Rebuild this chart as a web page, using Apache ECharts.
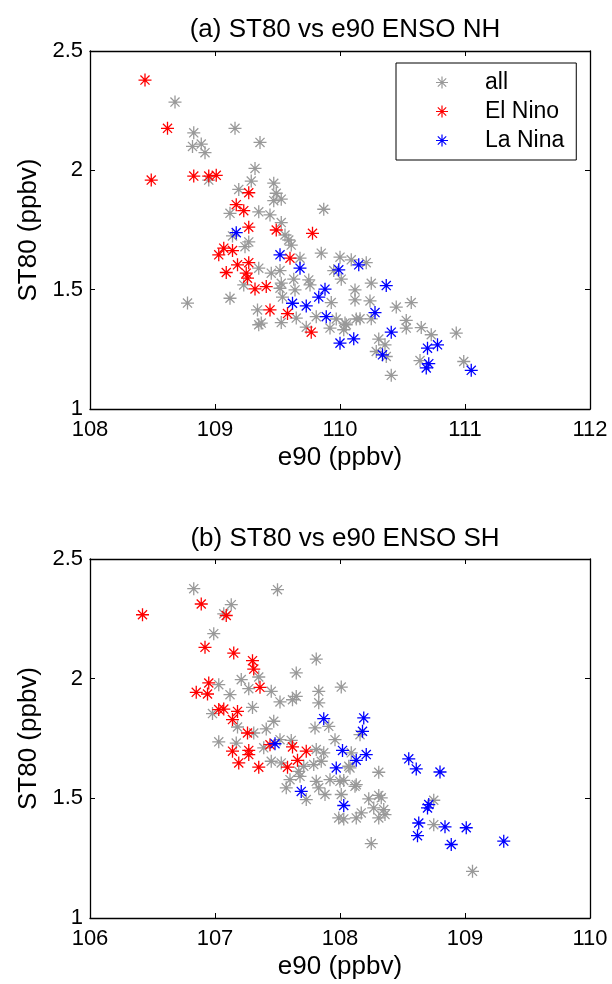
<!DOCTYPE html>
<html>
<head>
<meta charset="utf-8">
<script src="https://cdn.jsdelivr.net/npm/echarts@6/dist/echarts.min.js"></script>
<style>
html,body{margin:0;padding:0;background:#fff;}
#chart{width:612px;height:984px;}
</style>
</head>
<body>
<div id="chart"></div>
<script>
// ---- data: [e90 (ppbv), ST80 (ppbv)] ----
const nhAll = [[108.68,2.286],[108.83,2.157],[109.16,2.176],[109.36,2.117],[108.82,2.10],[108.89,2.11],[108.92,2.074],[108.95,1.959],[109.32,2.008],[109.29,1.955],[109.47,1.946],[109.19,1.92],[109.49,1.904],[109.47,1.873],[109.53,1.879],[109.87,1.837],[109.12,1.82],[109.35,1.826],[109.44,1.813],[109.53,1.781],[109.56,1.729],[109.14,1.725],[109.59,1.708],[109.61,1.687],[109.27,1.70],[109.24,1.68],[109.68,1.632],[109.85,1.653],[110.0,1.636],[110.09,1.625],[110.21,1.613],[109.95,1.58],[110.01,1.544],[109.35,1.59],[109.45,1.569],[109.52,1.58],[109.63,1.544],[109.75,1.541],[109.76,1.52],[109.53,1.527],[109.23,1.52],[109.52,1.506],[109.64,1.499],[109.54,1.469],[109.12,1.464],[108.78,1.444],[109.93,1.446],[109.34,1.415],[109.65,1.381],[109.53,1.362],[109.35,1.353],[109.37,1.36],[109.97,1.377],[109.81,1.387],[109.73,1.343],[109.92,1.339],[110.05,1.353],[110.13,1.377],[110.12,1.499],[110.12,1.457],[110.25,1.527],[110.24,1.453],[110.45,1.427],[110.57,1.446],[110.16,1.378],[110.25,1.378],[110.04,1.36],[110.03,1.332],[110.53,1.371],[110.53,1.339],[110.65,1.341],[110.73,1.311],[110.93,1.318],[110.31,1.293],[110.36,1.269],[110.29,1.241],[110.37,1.22],[110.64,1.203],[110.99,1.199],[110.41,1.141]];
const nhElNino = [[108.44,2.378],[108.62,2.176],[108.49,1.959],[108.83,1.976],[108.95,1.976],[109.01,1.979],[109.27,1.906],[109.17,1.856],[109.23,1.831],[109.27,1.762],[109.49,1.75],[109.78,1.736],[109.07,1.674],[109.14,1.664],[109.03,1.646],[109.6,1.632],[109.18,1.604],[109.27,1.613],[109.09,1.572],[109.25,1.569],[109.26,1.548],[109.32,1.503],[109.41,1.513],[109.44,1.415],[109.58,1.40],[109.77,1.322]];
const nhLaNina = [[109.17,1.739],[109.52,1.646],[110.15,1.604],[109.99,1.583],[109.68,1.59],[109.88,1.502],[109.83,1.469],[109.62,1.443],[109.73,1.432],[109.89,1.387],[110.0,1.276],[110.11,1.294],[110.37,1.517],[110.28,1.404],[110.41,1.322],[110.34,1.227],[110.70,1.255],[110.78,1.269],[110.71,1.19],[110.69,1.172],[111.05,1.162]];

const shAll = [[106.83,2.376],[107.50,2.372],[107.13,2.309],[107.07,2.271],[106.99,2.188],[107.81,2.082],[107.65,2.024],[107.35,2.007],[107.21,1.996],[107.27,1.958],[107.03,1.975],[107.12,1.933],[107.45,1.947],[107.52,1.903],[107.62,1.912],[107.65,1.926],[107.83,1.947],[107.83,1.899],[108.01,1.965],[107.30,1.88],[106.98,1.854],[107.47,1.822],[107.41,1.79],[107.18,1.798],[107.80,1.794],[107.91,1.801],[108.16,1.766],[107.31,1.773],[107.03,1.736],[107.17,1.731],[107.39,1.711],[107.52,1.745],[107.61,1.742],[107.45,1.655],[107.53,1.648],[107.81,1.704],[107.87,1.69],[107.85,1.655],[107.79,1.641],[107.71,1.634],[107.67,1.613],[107.68,1.592],[107.60,1.578],[107.57,1.544],[107.73,1.495],[107.81,1.571],[107.83,1.544],[107.88,1.516],[107.92,1.578],[108.0,1.571],[107.96,1.745],[108.07,1.634],[108.12,1.55],[108.01,1.516],[107.99,1.418],[108.03,1.414],[108.13,1.418],[108.09,1.69],[108.08,1.627],[108.31,1.609],[108.03,1.575],[108.13,1.557],[108.23,1.498],[108.31,1.512],[108.33,1.502],[108.17,1.439],[108.27,1.46],[108.35,1.453],[108.36,1.432],[108.31,1.418],[108.25,1.311],[108.75,1.492],[108.75,1.39],[109.06,1.195]];
const shElNino = [[106.42,2.267],[106.89,2.312],[107.09,2.264],[106.92,2.131],[107.15,2.107],[107.30,2.075],[107.31,2.04],[107.36,1.964],[106.95,1.982],[106.85,1.943],[106.94,1.936],[107.03,1.871],[107.07,1.873],[107.18,1.863],[107.14,1.829],[107.26,1.773],[107.14,1.697],[107.27,1.70],[107.27,1.683],[107.19,1.648],[107.44,1.724],[107.62,1.715],[107.73,1.697],[107.35,1.63],[107.58,1.63],[107.66,1.659]];
const shLaNina = [[107.87,1.833],[108.19,1.836],[108.18,1.78],[107.48,1.728],[107.69,1.529],[108.02,1.70],[107.97,1.627],[108.13,1.659],[108.03,1.47],[108.21,1.683],[108.55,1.665],[108.61,1.623],[108.80,1.61],[108.71,1.474],[108.70,1.46],[108.63,1.397],[108.84,1.381],[109.01,1.377],[108.62,1.344],[108.89,1.307],[109.31,1.321]];

const titles = ['(a) ST80 vs e90 ENSO NH', '(b) ST80 vs e90 ENSO SH'];
const seriesNames = ['all', 'El Nino', 'La Nina'];
const xRanges = [[108, 112], [106, 110]];
const yRange = [1, 2.5];

// ---- styling ----
const FONT = '"Liberation Sans", Arial, Helvetica, sans-serif';
const COLORS = ['#999999', '#ff0000', '#0000ff'];
const STAR = 'path://M45 0L55 0L55 100L45 100Z M0 45L100 45L100 55L0 55Z M11.5 18.5L18.5 11.5L88.5 81.5L81.5 88.5Z M81.5 11.5L88.5 18.5L18.5 88.5L11.5 81.5Z';
const grids = [
  {left: 90, top: 51, width: 500, height: 358},
  {left: 90, top: 559, width: 500, height: 359}
];
const titleTops = [12, 521];

const chart = echarts.init(document.getElementById('chart'), null, {renderer: 'canvas'});

const axisLine = {show: true, lineStyle: {color: '#000', width: 1.3}};
const tick = {show: true, inside: true, length: 5, lineStyle: {color: '#000', width: 1}};

const xAxis = [], yAxis = [], series = [], title = [];
grids.forEach((g, i) => {
  title.push({
    text: titles[i], left: g.left + g.width / 2, top: titleTops[i], textAlign: 'center',
    textStyle: {fontFamily: FONT, fontSize: 26, fontWeight: 'normal', color: '#000'}
  });
  xAxis.push({
    gridIndex: i, type: 'value', position: 'bottom', min: xRanges[i][0], max: xRanges[i][1], interval: 1,
    name: 'e90 (ppbv)', nameLocation: 'middle', nameGap: 36,
    nameTextStyle: {fontFamily: FONT, fontSize: 26, color: '#000'},
    axisLine, axisTick: tick, splitLine: {show: false},
    axisLabel: {fontFamily: FONT, fontSize: 22, color: '#000', margin: 10}
  });
  xAxis.push({
    gridIndex: i, type: 'value', position: 'top', min: xRanges[i][0], max: xRanges[i][1], interval: 1,
    axisLine, axisTick: tick, splitLine: {show: false}, axisLabel: {show: false}
  });
  yAxis.push({
    gridIndex: i, type: 'value', position: 'left', min: yRange[0], max: yRange[1], interval: 0.5,
    name: 'ST80 (ppbv)', nameLocation: 'middle', nameGap: 48, nameRotate: 90,
    nameTextStyle: {fontFamily: FONT, fontSize: 26, color: '#000'},
    axisLine, axisTick: tick, splitLine: {show: false},
    axisLabel: {fontFamily: FONT, fontSize: 22, color: '#000', margin: 7}
  });
  yAxis.push({
    gridIndex: i, type: 'value', position: 'right', min: yRange[0], max: yRange[1], interval: 0.5,
    axisLine, axisTick: tick, splitLine: {show: false}, axisLabel: {show: false}
  });
});

const panels = [[nhAll, nhElNino, nhLaNina], [shAll, shElNino, shLaNina]];
panels.forEach((sets, i) => {
  sets.forEach((d, k) => {
    series.push({
      name: seriesNames[k], type: 'scatter', xAxisIndex: i * 2, yAxisIndex: i * 2,
      data: d, symbol: STAR, symbolSize: 13,
      itemStyle: {color: COLORS[k], opacity: 1},
      emphasis: {disabled: true}, animation: false, z: 2 + k
    });
  });
});

chart.setOption({
  backgroundColor: '#fff',
  animation: false,
  title,
  grid: grids.map(g => Object.assign({containLabel: false}, g)),
  xAxis, yAxis, series,
  legend: {
    data: seriesNames,
    orient: 'vertical',
    left: 396, top: 63,
    padding: [8, 12, 8, 40],
    itemWidth: 12, itemHeight: 12, itemGap: 6,
    borderColor: '#000', borderWidth: 1, backgroundColor: '#fff',
    selectedMode: false,
    formatter: n => '{t|' + n + '}',
    textStyle: {
      fontFamily: FONT, fontSize: 23, color: '#000',
      rich: {t: {fontFamily: FONT, fontSize: 23, color: '#000', lineHeight: 24, padding: [0, 0, 0, 32]}}
    }
  }
});
</script>
</body>
</html>
